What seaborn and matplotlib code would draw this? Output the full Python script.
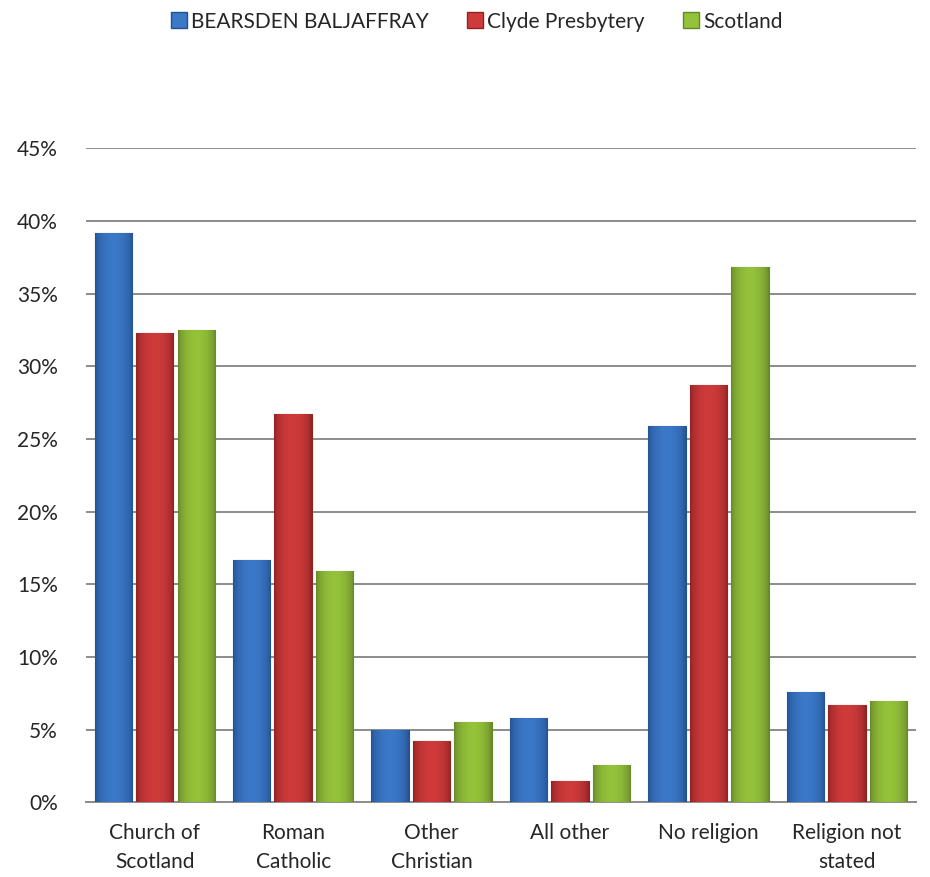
import matplotlib.pyplot as plt
import matplotlib.colors as mcolors
import numpy as np
import pandas as pd
import seaborn as sns
from matplotlib.lines import Line2D

categories = ["Church of\nScotland", "Roman\nCatholic", "Other\nChristian",
              "All other", "No religion", "Religion not\nstated"]
series = ["BEARSDEN BALJAFFRAY", "Clyde Presbytery", "Scotland"]
bearsden = [39.2, 16.7, 5.0, 5.8, 25.9, 7.6]
clyde = [32.3, 26.7, 4.2, 1.5, 28.7, 6.7]
scotland = [32.5, 15.9, 5.5, 2.6, 36.8, 7.0]
yticks = [0, 5, 10, 15, 20, 25, 30, 35, 40, 45]

colors = ["#3b78c8", "#cf3b3b", "#94c23a"]
dark = ["#23528f", "#8f2222", "#66872a"]

df = pd.DataFrame({
    "category": categories * 3,
    "series": sum([[s] * len(categories) for s in series], []),
    "value": bearsden + clyde + scotland,
})

sns.set_style("white")
plt.rcParams["font.family"] = ["Lato", "DejaVu Sans"]

fig = plt.figure(figsize=(9.3, 8.77), dpi=100)
ax = fig.add_axes([0.092, 0.085, 0.893, 0.746])

sns.barplot(data=df, x="category", y="value", hue="series", palette=colors,
            width=0.9, gap=0.1, ax=ax, legend=False, zorder=3)

# bevelled/gradient look on each bar
for i, bar in enumerate(ax.patches):
    k = i // len(categories)
    x0, y0 = bar.get_x(), bar.get_y()
    w, h = bar.get_width(), bar.get_height()
    if h <= 0:
        continue
    c1 = np.array(mcolors.to_rgb(dark[k]))
    c2 = np.array(mcolors.to_rgb(colors[k]))
    t = np.linspace(0, 1, 64)
    prof = np.sin(np.pi * t) ** 0.6
    grad = c1[None, :] * (1 - prof[:, None]) + c2[None, :] * prof[:, None]
    img = grad[None, :, :]
    im = ax.imshow(img, extent=[x0, x0 + w, y0, y0 + h], aspect="auto",
                   zorder=3.5, interpolation="bilinear")
    im.set_clip_path(bar)
    bar.set_edgecolor(dark[k])
    bar.set_linewidth(0.8)

ax.set_xlim(-0.5, len(categories) - 0.5)
ax.set_ylim(0, 45)
ax.set_yticks(yticks)
ax.set_yticklabels([f"{v}%" for v in yticks], fontsize=15)
ax.tick_params(axis="x", labelsize=15, length=0, pad=15)
ax.tick_params(axis="y", length=0, pad=20)
for lab in ax.get_xticklabels():
    lab.set_linespacing(1.55)
ax.set_xlabel("")
ax.set_ylabel("")
ax.grid(axis="y", color="#8c8c8c", linewidth=1.4, zorder=0)
ax.set_axisbelow(True)
for s in ["top", "left", "right"]:
    ax.spines[s].set_visible(False)
ax.spines["bottom"].set_color("#8c8c8c")
ax.spines["bottom"].set_linewidth(1.4)

handles = [Line2D([], [], marker="s", linestyle="", markersize=11,
                  markerfacecolor=c, markeredgecolor=d)
           for c, d in zip(colors, dark)]
fig.legend(handles, series, loc="upper center", bbox_to_anchor=(0.51, 1.008),
           ncol=3, frameon=False, fontsize=15, handletextpad=0.0,
           columnspacing=1.6, handlelength=1.2)

fig.savefig("out.png", dpi=100)
